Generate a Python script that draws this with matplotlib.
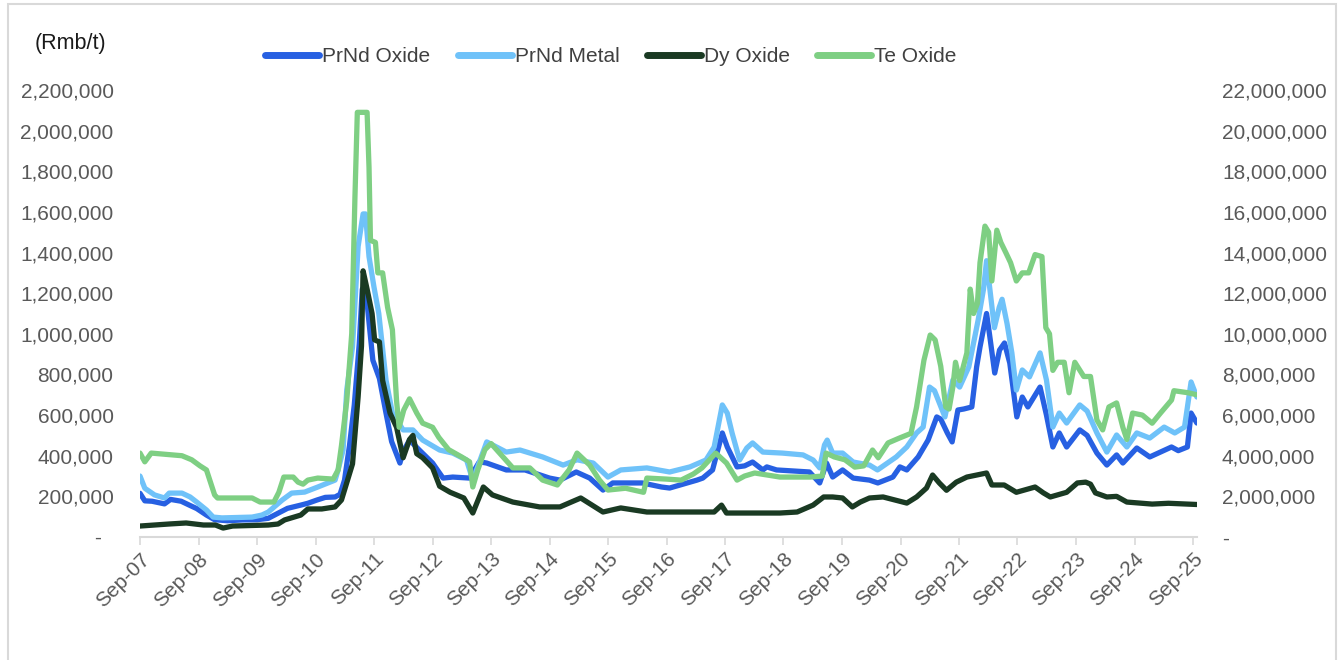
import matplotlib
matplotlib.use("Agg")
import matplotlib.pyplot as plt
import matplotlib.dates as mdates
from matplotlib.lines import Line2D
from matplotlib.patches import Rectangle
from matplotlib.ticker import FuncFormatter
import pandas as pd

plt.rcParams["font.family"] = ["Liberation Sans", "DejaVu Sans"]

# ---- PrNd Oxide (Rmb/t, left axis) ----
prnd_oxide_dates = [
    "2007-09-01", "2007-10-01", "2007-11-15", "2008-02-01", "2008-03-10", "2008-05-15",
    "2008-07-10", "2008-08-20", "2008-10-20", "2008-12-10", "2009-03-01", "2009-06-01",
    "2009-09-01", "2009-11-10", "2010-01-10", "2010-03-10", "2010-06-01", "2010-07-15",
    "2010-09-10", "2010-11-01", "2011-01-01", "2011-02-01", "2011-03-01", "2011-04-01",
    "2011-05-01", "2011-06-01", "2011-06-20", "2011-07-20", "2011-08-25", "2011-10-05",
    "2011-11-15", "2011-12-20", "2012-02-10", "2012-03-01", "2012-04-10", "2012-06-10",
    "2012-09-01", "2012-11-05", "2013-01-05", "2013-04-20", "2013-06-20", "2013-08-05",
    "2013-12-05", "2014-04-01", "2014-09-01", "2014-11-05", "2015-02-15", "2015-05-10",
    "2015-08-01", "2015-10-01", "2016-04-01", "2016-08-01", "2016-09-20", "2017-03-10",
    "2017-04-15", "2017-06-15", "2017-07-15", "2017-08-15", "2017-09-15", "2017-11-15",
    "2018-01-01", "2018-02-20", "2018-04-25", "2018-05-20", "2018-07-20", "2019-02-10",
    "2019-04-15", "2019-05-28", "2019-07-05", "2019-09-05", "2019-11-10", "2020-02-20",
    "2020-04-12", "2020-07-15", "2020-08-28", "2020-10-10", "2020-12-20", "2021-02-20",
    "2021-04-15", "2021-05-10", "2021-06-20", "2021-07-20", "2021-08-25", "2021-10-01",
    "2021-11-20", "2021-12-20", "2022-01-10", "2022-02-20", "2022-03-10", "2022-04-12",
    "2022-05-12", "2022-06-12", "2022-07-15", "2022-08-28", "2022-10-01", "2022-11-05",
    "2023-01-20", "2023-03-01", "2023-04-10", "2023-05-20", "2023-07-05", "2023-09-25",
    "2023-11-10", "2024-01-10", "2024-03-12", "2024-05-12", "2024-06-20", "2024-09-15",
    "2024-12-05", "2025-04-20", "2025-06-01", "2025-07-28", "2025-08-20", "2025-09-25",
]
prnd_oxide = [
    215000, 178000, 176000, 163000, 185000, 176000,
    155000, 140000, 108000, 85000, 80000, 84000,
    85000, 92000, 117000, 141000, 157000, 166000,
    182000, 195000, 197000, 210000, 280000, 450000,
    650000, 950000, 1220000, 1150000, 870000, 780000,
    610000, 470000, 364000, 420000, 477000, 428000,
    364000, 290000, 295000, 290000, 370000, 364000,
    330000, 330000, 290000, 280000, 320000, 290000,
    231000, 266000, 266000, 246000, 241000, 280000,
    290000, 330000, 420000, 512000, 443000, 345000,
    350000, 369000, 330000, 345000, 330000, 320000,
    266000, 364000, 295000, 330000, 290000, 280000,
    266000, 295000, 345000, 330000, 394000, 477000,
    591000, 580000, 512000, 468000, 625000, 630000,
    640000, 837000, 935000, 1100000, 1000000, 807000,
    920000, 955000, 856000, 591000, 689000, 640000,
    738000, 600000, 443000, 512000, 443000, 527000,
    500000, 413000, 354000, 404000, 364000, 438000,
    394000, 443000, 425000, 443000, 610000, 561000,
]

# ---- PrNd Metal (Rmb/t, left axis) ----
prnd_metal_dates = [
    "2007-09-01", "2007-10-01", "2007-12-01", "2008-02-01", "2008-03-01", "2008-05-20",
    "2008-07-10", "2008-08-20", "2008-10-20", "2008-12-01", "2009-01-25", "2009-08-01",
    "2009-10-01", "2009-11-10", "2010-02-05", "2010-04-05", "2010-06-25", "2010-09-15",
    "2011-01-01", "2011-01-20", "2011-02-20", "2011-03-15", "2011-04-20", "2011-05-25",
    "2011-06-25", "2011-07-10", "2011-08-01", "2011-09-01", "2011-10-01", "2011-11-15",
    "2011-12-25", "2012-03-01", "2012-05-01", "2012-07-01", "2012-10-15", "2013-01-05",
    "2013-04-01", "2013-05-10", "2013-08-05", "2013-12-05", "2014-03-01", "2014-07-20",
    "2014-11-25", "2015-02-20", "2015-06-01", "2015-09-01", "2015-11-20", "2016-05-01",
    "2016-09-20", "2017-01-25", "2017-05-05", "2017-06-25", "2017-08-15", "2017-09-15",
    "2017-10-15", "2017-12-01", "2018-01-15", "2018-02-20", "2018-04-25", "2018-08-25",
    "2019-01-01", "2019-03-05", "2019-04-15", "2019-05-15", "2019-06-01", "2019-07-05",
    "2019-09-05", "2019-11-10", "2020-02-20", "2020-04-10", "2020-08-05", "2020-10-10",
    "2020-12-10", "2021-01-20", "2021-03-01", "2021-04-01", "2021-06-05", "2021-07-25",
    "2021-09-05", "2021-11-01", "2021-12-01", "2021-12-30", "2022-02-01", "2022-02-20",
    "2022-03-20", "2022-04-10", "2022-05-10", "2022-05-28", "2022-06-28", "2022-07-28",
    "2022-08-25", "2022-10-01", "2022-11-15", "2023-01-20", "2023-03-01", "2023-04-10",
    "2023-05-20", "2023-07-05", "2023-09-25", "2023-11-10", "2024-01-10", "2024-03-12",
    "2024-05-12", "2024-07-15", "2024-09-15", "2024-12-05", "2025-03-05", "2025-05-10",
    "2025-07-10", "2025-08-20", "2025-09-25",
]
prnd_metal = [
    300000, 240000, 207000, 192000, 216000, 216000,
    197000, 172000, 133000, 98000, 94000, 98000,
    108000, 123000, 182000, 216000, 221000, 246000,
    280000, 330000, 428000, 723000, 935000, 1430000,
    1590000, 1590000, 1380000, 1230000, 1100000, 773000,
    610000, 527000, 527000, 477000, 428000, 413000,
    379000, 280000, 468000, 418000, 428000, 394000,
    354000, 380000, 364000, 295000, 330000, 340000,
    320000, 345000, 379000, 443000, 650000, 610000,
    512000, 379000, 438000, 463000, 418000, 413000,
    404000, 379000, 340000, 453000, 477000, 413000,
    413000, 369000, 354000, 330000, 394000, 443000,
    512000, 541000, 738000, 720000, 591000, 773000,
    738000, 837000, 955000, 1070000, 1220000, 1360000,
    1170000, 1030000, 1130000, 1170000, 1050000, 906000,
    723000, 822000, 788000, 906000, 773000, 541000,
    610000, 561000, 650000, 620000, 512000, 418000,
    502000, 443000, 512000, 487000, 541000, 512000,
    541000, 763000, 689000,
]

# ---- Dy Oxide (Rmb/t, right axis) ----
dy_oxide_dates = [
    "2007-09-01", "2008-03-01", "2008-06-15", "2008-10-01", "2008-12-15", "2009-02-01",
    "2009-04-01", "2009-11-10", "2010-01-10", "2010-02-20", "2010-04-20", "2010-06-01",
    "2010-07-15", "2010-10-10", "2011-01-01", "2011-02-10", "2011-03-20", "2011-04-20",
    "2011-05-25", "2011-06-15", "2011-06-25", "2011-07-20", "2011-08-20", "2011-09-05",
    "2011-10-05", "2011-10-25", "2011-12-10", "2012-01-20", "2012-03-01", "2012-04-10",
    "2012-05-01", "2012-05-25", "2012-07-01", "2012-09-01", "2012-10-15", "2012-12-20",
    "2013-03-15", "2013-05-10", "2013-07-15", "2013-09-10", "2014-01-15", "2014-07-01",
    "2014-11-05", "2015-03-15", "2015-08-01", "2015-11-20", "2016-05-01", "2016-12-01",
    "2017-06-25", "2017-08-10", "2017-09-10", "2018-08-10", "2018-11-25", "2019-03-05",
    "2019-05-10", "2019-07-05", "2019-09-05", "2019-11-05", "2019-12-25", "2020-02-20",
    "2020-05-15", "2020-10-10", "2020-12-10", "2021-02-10", "2021-03-20", "2021-05-01",
    "2021-06-15", "2021-08-15", "2021-10-20", "2022-02-20", "2022-03-25", "2022-06-10",
    "2022-08-25", "2022-12-20", "2023-02-10", "2023-03-25", "2023-07-05", "2023-09-10",
    "2023-11-01", "2023-12-01", "2024-01-01", "2024-03-12", "2024-05-12", "2024-07-15",
    "2024-12-20", "2025-04-01", "2025-09-25",
]
dy_oxide = [
    540000, 640000, 690000, 590000, 590000, 440000,
    540000, 590000, 640000, 840000, 980000, 1080000,
    1380000, 1380000, 1480000, 1820000, 2800000, 3600000,
    6900000, 9400000, 13100000, 12200000, 11000000, 9700000,
    9600000, 7700000, 6100000, 5400000, 3900000, 4800000,
    5000000, 4100000, 3900000, 3400000, 2500000, 2200000,
    1920000, 1180000, 2460000, 2070000, 1720000, 1480000,
    1480000, 1920000, 1230000, 1430000, 1230000, 1230000,
    1230000, 1570000, 1180000, 1180000, 1230000, 1570000,
    1970000, 1970000, 1920000, 1480000, 1720000, 1920000,
    1970000, 1670000, 1970000, 2410000, 3050000, 2660000,
    2300000, 2700000, 2950000, 3150000, 2560000, 2560000,
    2200000, 2460000, 2170000, 1970000, 2200000, 2660000,
    2700000, 2600000, 2170000, 1970000, 2000000, 1720000,
    1620000, 1660000, 1600000,
]

# ---- Te Oxide (Rmb/t, right axis) ----
te_oxide_dates = [
    "2007-09-01", "2007-10-01", "2007-11-10", "2008-05-20", "2008-07-20", "2008-09-10",
    "2008-10-20", "2008-11-10", "2008-12-10", "2008-12-28", "2009-08-01", "2009-09-20",
    "2009-12-15", "2010-01-15", "2010-02-15", "2010-04-15", "2010-05-15", "2010-06-15",
    "2010-07-15", "2010-09-15", "2010-12-20", "2011-01-20", "2011-02-10", "2011-03-15",
    "2011-04-15", "2011-05-05", "2011-05-20", "2011-07-20", "2011-08-01", "2011-08-10",
    "2011-09-10", "2011-09-25", "2011-10-25", "2011-11-25", "2011-12-25", "2012-01-20",
    "2012-02-05", "2012-03-05", "2012-04-10", "2012-05-25", "2012-07-01", "2012-09-01",
    "2012-10-10", "2012-12-10", "2013-03-01", "2013-04-20", "2013-05-10", "2013-06-10",
    "2013-07-25", "2013-09-01", "2013-11-15", "2014-01-15", "2014-05-01", "2014-07-20",
    "2014-10-20", "2015-01-01", "2015-02-20", "2015-05-10", "2015-07-10", "2015-09-01",
    "2015-12-20", "2016-04-10", "2016-05-01", "2016-09-01", "2016-12-01", "2017-02-15",
    "2017-04-10", "2017-07-05", "2017-09-10", "2017-11-15", "2018-01-01", "2018-03-05",
    "2018-08-10", "2019-02-15", "2019-05-01", "2019-05-25", "2019-07-15", "2019-09-20",
    "2019-11-20", "2020-01-15", "2020-03-10", "2020-04-15", "2020-06-15", "2020-08-25",
    "2020-11-05", "2020-12-10", "2021-01-25", "2021-03-05", "2021-04-05", "2021-05-10",
    "2021-06-10", "2021-07-01", "2021-07-25", "2021-08-10", "2021-09-05", "2021-10-20",
    "2021-11-10", "2021-12-01", "2021-12-25", "2022-01-10", "2022-02-10", "2022-03-05",
    "2022-03-25", "2022-04-25", "2022-05-20", "2022-06-20", "2022-07-20", "2022-08-25",
    "2022-10-01", "2022-11-10", "2022-12-20", "2023-02-01", "2023-02-25", "2023-03-20",
    "2023-04-10", "2023-05-10", "2023-06-20", "2023-07-20", "2023-08-25", "2023-10-20",
    "2023-12-01", "2024-01-10", "2024-02-15", "2024-03-25", "2024-05-12", "2024-06-20",
    "2024-07-15", "2024-08-20", "2024-10-20", "2024-12-20", "2025-02-10", "2025-04-20",
    "2025-05-05", "2025-08-01", "2025-09-25",
]
te_oxide = [
    4130000, 3700000, 4130000, 4000000, 3800000, 3500000,
    3300000, 2800000, 2070000, 1920000, 1920000, 1720000,
    1720000, 2200000, 2950000, 2950000, 2700000, 2600000,
    2800000, 2900000, 2850000, 3300000, 4500000, 6700000,
    10000000, 16700000, 20900000, 20900000, 18200000, 14600000,
    14500000, 13000000, 13000000, 11300000, 10200000, 6700000,
    5400000, 6250000, 6800000, 6100000, 5600000, 5400000,
    4900000, 4300000, 3940000, 3700000, 2460000, 3300000,
    4300000, 4600000, 3940000, 3400000, 3400000, 2800000,
    2560000, 3300000, 4130000, 3540000, 2800000, 2310000,
    2400000, 2200000, 2900000, 2850000, 2800000, 3100000,
    3400000, 4130000, 3640000, 2800000, 3000000, 3150000,
    2950000, 2950000, 3000000, 4130000, 3940000, 3800000,
    3440000, 3500000, 4280000, 3900000, 4630000, 4870000,
    5100000, 6400000, 8700000, 9940000, 9700000, 8400000,
    6400000, 6300000, 7400000, 8600000, 7700000, 9060000,
    12200000, 11000000, 11500000, 13500000, 15300000, 15000000,
    12600000, 15100000, 14500000, 14000000, 13500000, 12600000,
    13000000, 13000000, 13900000, 13800000, 10300000, 10000000,
    8200000, 8600000, 8600000, 7100000, 8600000, 7900000,
    7900000, 5760000, 5270000, 6400000, 6600000, 5400000,
    4800000, 6100000, 6000000, 5600000, 6100000, 6740000,
    7200000, 7100000, 7000000,
]

series_labels = ["PrNd Oxide", "PrNd Metal", "Dy Oxide", "Te Oxide"]
series_colors = ["#2760E2", "#6FC2F9", "#1A3A23", "#7ECF83"]

left_ticks = list(range(0, 2200001, 200000))
right_ticks = list(range(0, 22000001, 2000000))

W, H = 1343, 660
fig = plt.figure(figsize=(W / 100, H / 100), dpi=100)
fig.patch.set_facecolor("white")

# outer frame around the whole graphic
fig.add_artist(Rectangle((8 / W, -0.05), (1336 - 8) / W, 1.05 - 4 / H,
                         transform=fig.transFigure, fill=False,
                         edgecolor="#D9D9D9", linewidth=1.5, zorder=0))

ax = fig.add_axes([140 / W, 1 - 537 / H, (1197 - 140) / W, (537 - 90) / H])
ax2 = ax.twinx()

lw = 3.8
style = dict(lw=lw, solid_joinstyle="round", solid_capstyle="round")
ax.plot(pd.to_datetime(prnd_oxide_dates), prnd_oxide, color=series_colors[0], **style)
ax.plot(pd.to_datetime(prnd_metal_dates), prnd_metal, color=series_colors[1], **style)
ax2.plot(pd.to_datetime(dy_oxide_dates), dy_oxide, color=series_colors[2], **style)
ax2.plot(pd.to_datetime(te_oxide_dates), te_oxide, color=series_colors[3], **style)

ax.set_ylim(0, 2200000)
ax2.set_ylim(0, 22000000)
ax.set_yticks(left_ticks)
ax2.set_yticks(right_ticks)

# accounting-style labels: zero shown as a dash
ax.yaxis.set_major_formatter(FuncFormatter(lambda v, p: "-  " if v == 0 else f"{v:,.0f}"))
ax2.yaxis.set_major_formatter(FuncFormatter(lambda v, p: "-" if v == 0 else f"{v:,.0f}"))

x0 = pd.Timestamp("2007-09-01")
x1 = pd.Timestamp("2025-09-26")
ax.set_xlim(x0, x1)
ax.xaxis.set_major_locator(mdates.MonthLocator(bymonth=9, bymonthday=1))
ax.xaxis.set_major_formatter(mdates.DateFormatter("%b-%y"))

tick_color = "#595959"
for a in (ax, ax2):
    for s in a.spines.values():
        s.set_visible(False)
ax.spines["bottom"].set_visible(True)
ax.spines["bottom"].set_color("#D9D9D9")
ax.spines["bottom"].set_linewidth(1.5)

ax.tick_params(axis="y", length=0, pad=19, labelsize=15, labelcolor=tick_color)
ax2.tick_params(axis="y", length=0, pad=18, labelsize=15, labelcolor=tick_color)
ax.tick_params(axis="x", length=6, width=1.2, color="#D9D9D9", pad=3,
               labelsize=15, labelcolor=tick_color)
for lab in ax.get_xticklabels():
    lab.set_rotation(45)
    lab.set_ha("right")
    lab.set_va("top")
    lab.set_rotation_mode("anchor")

fig.text(35 / W, 1 - 44 / H, "(Rmb/t)", fontsize=15.5, color="#1A1A1A",
         ha="left", va="center")

handles = [Line2D([0], [0], color=c, lw=5, solid_capstyle="round") for c in series_colors]
fig.legend(handles, series_labels, loc="center", bbox_to_anchor=(611 / W, 1 - 57 / H),
           ncol=4, frameon=False, fontsize=15, handlelength=2.6, handletextpad=0.15,
           columnspacing=1.3, labelcolor="#404040", borderaxespad=0, borderpad=0)

fig.savefig("out.png", dpi=100, facecolor="white")
